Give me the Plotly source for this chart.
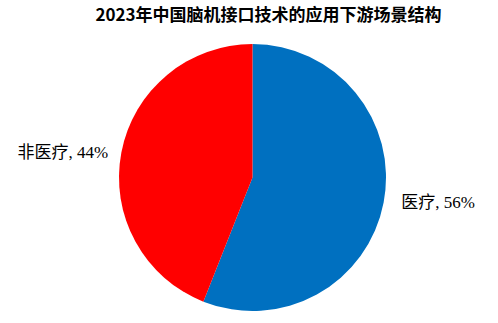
import plotly.graph_objects as go

labels = ["医疗", "非医疗"]
values = [56, 44]
colors = ["#0070C0", "#FF0000"]
title = "2023年中国脑机接口技术的应用下游场景结构"

nb = "\u00a0"
templates = [nb * 3 + "%{label}," + nb + "%{percent:.0%}",
             "%{label}," + nb + "%{percent:.0%}" + nb * 2]

fig = go.Figure(go.Pie(
    labels=labels, values=values, sort=False, direction="clockwise", rotation=0,
    marker=dict(colors=colors, line=dict(width=0)),
    textposition="outside", texttemplate=templates,
    outsidetextfont=dict(family="Liberation Serif, Noto Sans CJK SC", size=17, color="black"),
    showlegend=False, hoverinfo="skip",
    domain=dict(x=[0.0, 1.0], y=[0, 1]),
))
fig.update_layout(
    width=498, height=323,
    margin=dict(l=7, r=0, t=44, b=12, autoexpand=False),
    paper_bgcolor="white", plot_bgcolor="white",
    title=dict(text="<b>" + title + "</b>", x=268.5/498, xref="container", xanchor="center",
               y=1-15/323, yref="container", yanchor="middle",
               font=dict(family="Noto Sans CJK SC", size=17, color="black")),
)
fig.write_html("out.html")
